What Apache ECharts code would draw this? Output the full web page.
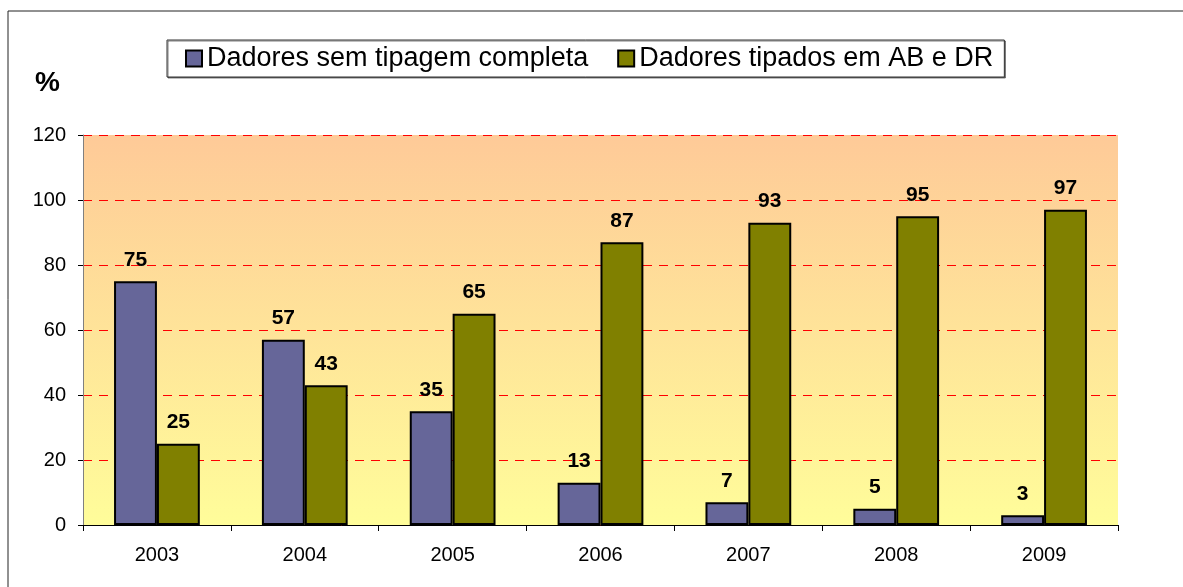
<!DOCTYPE html>
<html>
<head>
<meta charset="utf-8">
<script src="https://cdn.jsdelivr.net/npm/echarts@6/dist/echarts.min.js"></script>
<style>
  html, body { margin: 0; padding: 0; background: #fff; }
  #chart { width: 1183px; height: 587px; }
</style>
</head>
<body>
<div id="chart"></div>
<script>
// dados
const anos = ['2003', '2004', '2005', '2006', '2007', '2008', '2009']
const semTipagem = [75, 57, 35, 13, 7, 5, 3]
const tipadosABDR = [25, 43, 65, 87, 93, 95, 97]
const nomes = ['Dadores sem tipagem completa', 'Dadores tipados em AB e DR']

const myChart = echarts.init(document.getElementById('chart'))

const fonte = 'Liberation Sans, Arial, sans-serif'

const rotulo = {
  show: true,
  position: 'top',
  distance: 11,
  color: '#000',
  fontFamily: fonte,
  fontWeight: 'bold',
  fontSize: 21
}

const option = {
  animation: false,
  textStyle: { fontFamily: fonte },
  graphic: [
    {
      type: 'rect',
      shape: { x: 8, y: 11, width: 1200, height: 600 },
      style: { fill: 'none', stroke: '#222', lineWidth: 1 },
      silent: true
    },
    {
      type: 'text',
      left: 35,
      top: 69,
      style: { text: '%', font: 'bold 28px Liberation Sans, Arial', fill: '#000' }
    }
  ],
  legend: {
    top: 40,
    left: 167,
    padding: [5, 11, 5, 18],
    itemGap: 29,
    itemWidth: 16,
    itemHeight: 16,
    icon: 'rect',
    borderColor: '#333',
    borderWidth: 1,
    backgroundColor: '#fff',
    shadowColor: 'rgba(0,0,0,0.5)',
    shadowOffsetX: 1,
    shadowOffsetY: 1,
    textStyle: { fontSize: 27, color: '#000', fontFamily: fonte },
    data: nomes.map(n => ({ name: n, itemStyle: { borderColor: '#000', borderWidth: 2 } }))
  },
  grid: {
    left: 83,
    right: 65,
    top: 135,
    bottom: 62,
    show: true,
    borderWidth: 0,
    backgroundColor: new echarts.graphic.LinearGradient(0, 0, 0, 1, [
      { offset: 0, color: '#FECA98' },
      { offset: 1, color: '#FFFD9A' }
    ])
  },
  xAxis: {
    type: 'category',
    data: anos,
    axisLine: { lineStyle: { color: '#000', width: 1 } },
    axisTick: { show: true, length: 6, alignWithLabel: false, lineStyle: { color: '#000' } },
    axisLabel: { color: '#000', fontSize: 20, margin: 20 }
  },
  yAxis: {
    type: 'value',
    min: 0,
    max: 120,
    interval: 20,
    axisLine: { show: true, lineStyle: { color: '#808080', width: 1 } },
    axisTick: { show: true, inside: false, length: 5, lineStyle: { color: '#000' } },
    axisLabel: { color: '#000', fontSize: 20, margin: 17 },
    splitLine: { lineStyle: { color: '#FF0000', type: [9, 7], width: 1 } }
  },
  series: [
    {
      name: nomes[0],
      type: 'bar',
      data: semTipagem,
      barGap: '0%',
      barCategoryGap: '42%',
      itemStyle: { color: '#666699', borderColor: '#000', borderWidth: 2 },
      label: rotulo
    },
    {
      name: nomes[1],
      type: 'bar',
      data: tipadosABDR,
      itemStyle: { color: '#808000', borderColor: '#000', borderWidth: 2 },
      label: rotulo
    }
  ]
}

myChart.setOption(option)
</script>
</body>
</html>
